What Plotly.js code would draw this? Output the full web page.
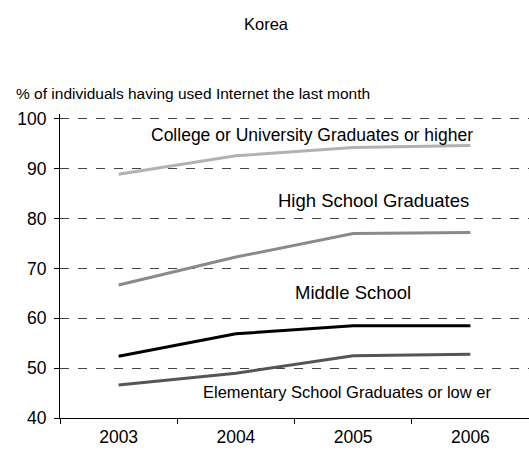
<!DOCTYPE html>
<html>
<head>
<meta charset="utf-8">
<script src="https://cdn.plot.ly/plotly-3.0.1.min.js"></script>
<style>html,body{margin:0;padding:0;background:#fff;}#chart{width:529px;height:460px;}</style>
</head>
<body>
<div id="chart"></div>
<script>
var years = ["2003", "2004", "2005", "2006"];
var seriesNames = ["College or University Graduates or higher", "High School Graduates", "Middle School", "Elementary School Graduates or low er"];
var college = [88.9, 92.6, 94.3, 94.7];
var highSchool = [66.7, 72.3, 77.0, 77.2];
var middleSchool = [52.4, 56.9, 58.5, 58.5];
var elementary = [46.6, 49.0, 52.5, 52.8];
var colors = ["#b2b2b2", "#8a8a8a", "#000000", "#555555"];
var labelX = [1.65, 2.17, 2.0, 1.95];
var labelY = [96.8, 83.6, 65.1, 45.2];
var labelSize = [17.5, 18.5, 18.5, 16.5];

var allSeries = [college, highSchool, middleSchool, elementary];
var FONT = "Liberation Sans, Arial, sans-serif";
var traces = allSeries.map(function (vals, i) {
  return {
    x: years, y: vals, type: "scatter", mode: "lines", name: seriesNames[i],
    line: {color: colors[i], width: 3}, hoverinfo: "skip"
  };
});
var annotations = seriesNames.map(function (t, i) {
  return {x: labelX[i], y: labelY[i], xref: "x", yref: "y", text: t, showarrow: false,
    font: {family: FONT, size: labelSize[i], color: "#000"}, xanchor: "center", yanchor: "middle"};
});
annotations.push({x: (14 - 60) / 469, y: (418 - 94) / 304, xref: "paper", yref: "paper",
  text: "% of individuals having used Internet the last month", showarrow: false,
  xanchor: "left", yanchor: "middle", font: {family: FONT, size: 15.5, color: "#000"}});

var layout = {
  width: 529, height: 460,
  margin: {l: 60, r: 0, t: 114, b: 42},
  paper_bgcolor: "#fff", plot_bgcolor: "#fff",
  showlegend: false,
  title: {text: "Korea", x: 266 / 529, xanchor: "center", xref: "container", y: 1 - 24 / 460, yanchor: "middle", yref: "container",
    font: {family: FONT, size: 16.5, color: "#000"}},
  font: {family: FONT, size: 16, color: "#000"},
  xaxis: {type: "category", range: [-0.5, 3.5], showgrid: false, showline: true, linecolor: "#000", linewidth: 1,
    ticks: "outside", tickson: "boundaries", ticklen: 5, tickcolor: "#000", zeroline: false,
    ticklabelstandoff: 3, tickfont: {family: FONT, size: 17.5}},
  yaxis: {range: [40, 101], tickvals: [40, 50, 60, 70, 80, 90, 100], showline: true, linecolor: "#000", linewidth: 1,
    ticks: "outside", ticklen: 5, tickcolor: "#000", zeroline: false,
    showgrid: true, gridcolor: "#444", griddash: "dash", gridwidth: 1,
    ticklabelstandoff: 4, tickfont: {family: FONT, size: 17.5}},
  annotations: annotations
};
Plotly.newPlot("chart", traces, layout, {displayModeBar: false, staticPlot: true});
</script>
</body>
</html>
